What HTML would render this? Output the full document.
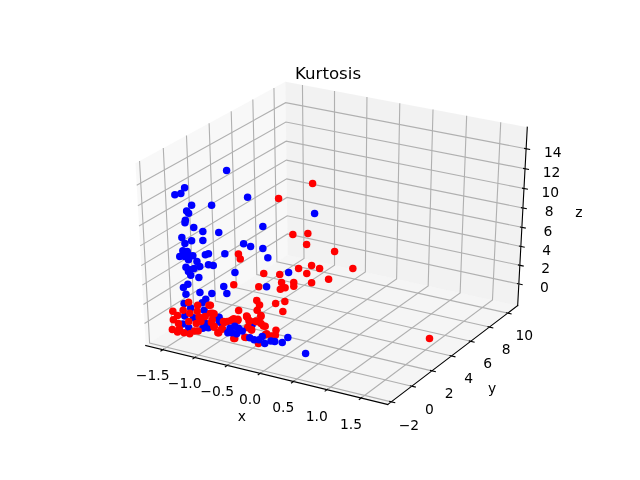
<!DOCTYPE html>
<html><head><meta charset="utf-8"><title>Kurtosis</title>
<style>html,body{margin:0;padding:0;background:#fff;overflow:hidden}svg{display:block}
text{font-family:"DejaVu Sans","Liberation Sans",sans-serif;fill:#000}</style></head>
<body><svg width="640" height="480" viewBox="0 0 640 480">
<rect width="640" height="480" fill="#fff"/>
<g><polygon points="145.75,345.53 287.71,254.91 285.35,81.76 135.47,163.18" fill="rgb(242,242,242)" fill-opacity="0.5"/>
<polygon points="287.71,254.91 517.67,305.57 527.29,127.20 285.35,81.76" fill="rgb(230,230,230)" fill-opacity="0.5"/>
<polygon points="145.75,345.53 387.70,404.53 517.67,305.57 287.71,254.91" fill="rgb(236,236,236)" fill-opacity="0.5"/>
<polyline points="145.75,345.53 387.70,404.53" stroke="#000" stroke-width="1.11" fill="none" stroke-linecap="square"/>
<polyline points="162.84,349.70 304.01,258.50 302.46,84.97" stroke="#b0b0b0" stroke-width="1.11" fill="none" stroke-linejoin="miter"/>
<polyline points="194.87,357.51 334.52,265.23 334.51,90.99" stroke="#b0b0b0" stroke-width="1.11" fill="none" stroke-linejoin="miter"/>
<polyline points="227.29,365.42 365.38,272.03 366.95,97.08" stroke="#b0b0b0" stroke-width="1.11" fill="none" stroke-linejoin="miter"/>
<polyline points="260.12,373.42 396.60,278.90 399.78,103.25" stroke="#b0b0b0" stroke-width="1.11" fill="none" stroke-linejoin="miter"/>
<polyline points="293.36,381.53 428.18,285.86 433.02,109.49" stroke="#b0b0b0" stroke-width="1.11" fill="none" stroke-linejoin="miter"/>
<polyline points="327.02,389.74 460.14,292.90 466.66,115.81" stroke="#b0b0b0" stroke-width="1.11" fill="none" stroke-linejoin="miter"/>
<polyline points="361.11,398.05 492.47,300.02 500.72,122.21" stroke="#b0b0b0" stroke-width="1.11" fill="none" stroke-linejoin="miter"/>
<polyline points="164.06,348.91 160.41,351.27" stroke="#000" stroke-width="1.11" fill="none"/>
<polyline points="196.07,356.71 192.46,359.10" stroke="#000" stroke-width="1.11" fill="none"/>
<polyline points="228.48,364.61 224.90,367.03" stroke="#000" stroke-width="1.11" fill="none"/>
<polyline points="261.29,372.61 257.76,375.06" stroke="#000" stroke-width="1.11" fill="none"/>
<polyline points="294.52,380.70 291.02,383.18" stroke="#000" stroke-width="1.11" fill="none"/>
<polyline points="328.17,388.90 324.71,391.41" stroke="#000" stroke-width="1.11" fill="none"/>
<polyline points="362.24,397.20 358.83,399.75" stroke="#000" stroke-width="1.11" fill="none"/>
<polyline points="517.67,305.57 387.70,404.53" stroke="#000" stroke-width="1.11" fill="none" stroke-linecap="square"/>
<polyline points="139.55,160.96 149.60,343.08 391.23,401.84" stroke="#b0b0b0" stroke-width="1.11" fill="none" stroke-linejoin="miter"/>
<polyline points="163.29,148.06 172.02,328.77 411.81,386.17" stroke="#b0b0b0" stroke-width="1.11" fill="none" stroke-linejoin="miter"/>
<polyline points="186.47,135.47 193.93,314.78 431.91,370.87" stroke="#b0b0b0" stroke-width="1.11" fill="none" stroke-linejoin="miter"/>
<polyline points="209.11,123.18 215.36,301.10 451.54,355.93" stroke="#b0b0b0" stroke-width="1.11" fill="none" stroke-linejoin="miter"/>
<polyline points="231.22,111.16 236.31,287.72 470.71,341.33" stroke="#b0b0b0" stroke-width="1.11" fill="none" stroke-linejoin="miter"/>
<polyline points="252.83,99.42 256.81,274.64 489.46,327.06" stroke="#b0b0b0" stroke-width="1.11" fill="none" stroke-linejoin="miter"/>
<polyline points="273.95,87.95 276.87,261.83 507.78,313.11" stroke="#b0b0b0" stroke-width="1.11" fill="none" stroke-linejoin="miter"/>
<polyline points="389.21,401.35 395.28,402.83" stroke="#000" stroke-width="1.11" fill="none"/>
<polyline points="409.81,385.69 415.83,387.14" stroke="#000" stroke-width="1.11" fill="none"/>
<polyline points="429.92,370.41 435.89,371.81" stroke="#000" stroke-width="1.11" fill="none"/>
<polyline points="449.56,355.47 455.49,356.85" stroke="#000" stroke-width="1.11" fill="none"/>
<polyline points="468.76,340.88 474.63,342.22" stroke="#000" stroke-width="1.11" fill="none"/>
<polyline points="487.51,326.62 493.34,327.93" stroke="#000" stroke-width="1.11" fill="none"/>
<polyline points="505.85,312.68 511.64,313.96" stroke="#000" stroke-width="1.11" fill="none"/>
<polyline points="517.67,305.57 527.29,127.20" stroke="#000" stroke-width="1.11" fill="none" stroke-linecap="square"/>
<polyline points="518.83,283.99 287.42,233.92 144.51,323.50" stroke="#b0b0b0" stroke-width="1.11" fill="none" stroke-linejoin="miter"/>
<polyline points="519.84,265.31 287.18,215.76 143.44,304.43" stroke="#b0b0b0" stroke-width="1.11" fill="none" stroke-linejoin="miter"/>
<polyline points="520.86,246.42 286.93,197.41 142.35,285.13" stroke="#b0b0b0" stroke-width="1.11" fill="none" stroke-linejoin="miter"/>
<polyline points="521.89,227.33 286.67,178.86 141.25,265.62" stroke="#b0b0b0" stroke-width="1.11" fill="none" stroke-linejoin="miter"/>
<polyline points="522.93,208.02 286.42,160.12 140.14,245.88" stroke="#b0b0b0" stroke-width="1.11" fill="none" stroke-linejoin="miter"/>
<polyline points="523.98,188.49 286.16,141.17 139.01,225.91" stroke="#b0b0b0" stroke-width="1.11" fill="none" stroke-linejoin="miter"/>
<polyline points="525.05,168.75 285.90,122.03 137.87,205.71" stroke="#b0b0b0" stroke-width="1.11" fill="none" stroke-linejoin="miter"/>
<polyline points="526.13,148.78 285.63,102.67 136.72,185.27" stroke="#b0b0b0" stroke-width="1.11" fill="none" stroke-linejoin="miter"/>
<polyline points="516.90,283.58 522.70,284.83" stroke="#000" stroke-width="1.11" fill="none"/>
<polyline points="517.90,264.90 523.73,266.14" stroke="#000" stroke-width="1.11" fill="none"/>
<polyline points="518.91,246.02 524.77,247.24" stroke="#000" stroke-width="1.11" fill="none"/>
<polyline points="519.92,226.92 525.82,228.14" stroke="#000" stroke-width="1.11" fill="none"/>
<polyline points="520.95,207.62 526.89,208.82" stroke="#000" stroke-width="1.11" fill="none"/>
<polyline points="522.00,188.10 527.96,189.29" stroke="#000" stroke-width="1.11" fill="none"/>
<polyline points="523.05,168.36 529.05,169.53" stroke="#000" stroke-width="1.11" fill="none"/>
<polyline points="524.12,148.39 530.15,149.55" stroke="#000" stroke-width="1.11" fill="none"/></g>
<g><text x="241.79" y="421.28" font-size="13.89" text-anchor="middle">x</text>
<text x="152.68" y="379.78" font-size="13.89" text-anchor="middle">−1.5</text>
<text x="184.70" y="387.72" font-size="13.89" text-anchor="middle">−1.0</text>
<text x="217.12" y="395.76" font-size="13.89" text-anchor="middle">−0.5</text>
<text x="249.94" y="403.91" font-size="13.89" text-anchor="middle">0.0</text>
<text x="283.18" y="412.15" font-size="13.89" text-anchor="middle">0.5</text>
<text x="316.84" y="420.50" font-size="13.89" text-anchor="middle">1.0</text>
<text x="350.93" y="428.96" font-size="13.89" text-anchor="middle">1.5</text>
<text x="492.17" y="392.62" font-size="13.89" text-anchor="middle">y</text>
<text x="408.93" y="429.58" font-size="13.89" text-anchor="middle">−2</text>
<text x="429.29" y="413.72" font-size="13.89" text-anchor="middle">0</text>
<text x="449.17" y="398.23" font-size="13.89" text-anchor="middle">2</text>
<text x="468.59" y="383.10" font-size="13.89" text-anchor="middle">4</text>
<text x="487.56" y="368.32" font-size="13.89" text-anchor="middle">6</text>
<text x="506.10" y="353.87" font-size="13.89" text-anchor="middle">8</text>
<text x="524.23" y="339.75" font-size="13.89" text-anchor="middle">10</text>
<text x="578.94" y="217.02" font-size="13.89" text-anchor="middle">z</text>
<text x="544.45" y="292.09" font-size="13.89" text-anchor="middle">0</text>
<text x="545.60" y="273.44" font-size="13.89" text-anchor="middle">2</text>
<text x="546.76" y="254.58" font-size="13.89" text-anchor="middle">4</text>
<text x="547.93" y="235.51" font-size="13.89" text-anchor="middle">6</text>
<text x="549.11" y="216.23" font-size="13.89" text-anchor="middle">8</text>
<text x="550.31" y="196.74" font-size="13.89" text-anchor="middle">10</text>
<text x="551.52" y="177.02" font-size="13.89" text-anchor="middle">12</text>
<text x="552.74" y="157.09" font-size="13.89" text-anchor="middle">14</text>
<text x="328.00" y="78.90" font-size="16.67" text-anchor="middle">Kurtosis</text></g>
<g><circle cx="226.60" cy="170.60" r="3.75" fill="#0000ff"/>
<circle cx="184.60" cy="187.85" r="3.75" fill="#0000ff"/>
<circle cx="180.85" cy="193.60" r="3.75" fill="#0000ff"/>
<circle cx="174.85" cy="194.85" r="3.75" fill="#0000ff"/>
<circle cx="247.60" cy="197.35" r="3.75" fill="#0000ff"/>
<circle cx="211.60" cy="205.35" r="3.75" fill="#0000ff"/>
<circle cx="191.60" cy="205.35" r="3.75" fill="#0000ff"/>
<circle cx="186.60" cy="211.10" r="3.75" fill="#0000ff"/>
<circle cx="188.60" cy="213.35" r="3.75" fill="#0000ff"/>
<circle cx="185.35" cy="220.35" r="3.75" fill="#0000ff"/>
<circle cx="184.95" cy="222.85" r="3.75" fill="#0000ff"/>
<circle cx="193.75" cy="227.60" r="3.75" fill="#0000ff"/>
<circle cx="262.85" cy="226.60" r="3.75" fill="#0000ff"/>
<circle cx="202.85" cy="231.60" r="3.75" fill="#0000ff"/>
<circle cx="218.75" cy="232.60" r="3.75" fill="#0000ff"/>
<circle cx="181.85" cy="237.60" r="3.75" fill="#0000ff"/>
<circle cx="191.60" cy="240.75" r="3.75" fill="#0000ff"/>
<circle cx="202.85" cy="240.60" r="3.75" fill="#0000ff"/>
<circle cx="184.95" cy="243.45" r="3.75" fill="#0000ff"/>
<circle cx="243.60" cy="243.85" r="3.75" fill="#0000ff"/>
<circle cx="250.60" cy="246.60" r="3.75" fill="#0000ff"/>
<circle cx="262.85" cy="248.60" r="3.75" fill="#0000ff"/>
<circle cx="224.85" cy="253.75" r="3.75" fill="#0000ff"/>
<circle cx="267.85" cy="257.85" r="3.75" fill="#0000ff"/>
<circle cx="314.60" cy="213.60" r="3.75" fill="#0000ff"/>
<circle cx="182.85" cy="250.75" r="3.75" fill="#0000ff"/>
<circle cx="187.25" cy="251.60" r="3.75" fill="#0000ff"/>
<circle cx="179.75" cy="256.60" r="3.75" fill="#0000ff"/>
<circle cx="184.75" cy="256.60" r="3.75" fill="#0000ff"/>
<circle cx="192.85" cy="255.75" r="3.75" fill="#0000ff"/>
<circle cx="188.45" cy="259.75" r="3.75" fill="#0000ff"/>
<circle cx="205.35" cy="254.75" r="3.75" fill="#0000ff"/>
<circle cx="208.45" cy="253.85" r="3.75" fill="#0000ff"/>
<circle cx="196.95" cy="261.60" r="3.75" fill="#0000ff"/>
<circle cx="208.45" cy="264.75" r="3.75" fill="#0000ff"/>
<circle cx="213.25" cy="265.60" r="3.75" fill="#0000ff"/>
<circle cx="199.75" cy="266.60" r="3.75" fill="#0000ff"/>
<circle cx="185.95" cy="267.25" r="3.75" fill="#0000ff"/>
<circle cx="194.10" cy="268.45" r="3.75" fill="#0000ff"/>
<circle cx="188.45" cy="271.60" r="3.75" fill="#0000ff"/>
<circle cx="190.75" cy="275.35" r="3.75" fill="#0000ff"/>
<circle cx="198.85" cy="277.45" r="3.75" fill="#0000ff"/>
<circle cx="234.95" cy="272.60" r="3.75" fill="#0000ff"/>
<circle cx="187.85" cy="284.35" r="3.75" fill="#0000ff"/>
<circle cx="183.45" cy="287.60" r="3.75" fill="#0000ff"/>
<circle cx="185.95" cy="294.35" r="3.75" fill="#0000ff"/>
<circle cx="199.95" cy="292.60" r="3.75" fill="#0000ff"/>
<circle cx="211.85" cy="293.45" r="3.75" fill="#0000ff"/>
<circle cx="223.75" cy="286.60" r="3.75" fill="#0000ff"/>
<circle cx="226.85" cy="293.45" r="3.75" fill="#0000ff"/>
<circle cx="205.75" cy="299.35" r="3.75" fill="#0000ff"/>
<circle cx="184.10" cy="303.45" r="3.75" fill="#0000ff"/>
<circle cx="202.25" cy="302.85" r="3.75" fill="#0000ff"/>
<circle cx="288.60" cy="272.60" r="3.75" fill="#0000ff"/>
<circle cx="266.60" cy="286.75" r="3.75" fill="#0000ff"/>
<circle cx="305.60" cy="353.60" r="3.75" fill="#0000ff"/>
<circle cx="188.45" cy="255.35" r="3.75" fill="#0000ff"/>
<circle cx="190.35" cy="269.75" r="3.75" fill="#0000ff"/>
<circle cx="312.60" cy="183.60" r="3.75" fill="#ff0000"/>
<circle cx="278.60" cy="198.60" r="3.75" fill="#ff0000"/>
<circle cx="292.85" cy="234.60" r="3.75" fill="#ff0000"/>
<circle cx="307.85" cy="233.60" r="3.75" fill="#ff0000"/>
<circle cx="306.60" cy="244.60" r="3.75" fill="#ff0000"/>
<circle cx="238.45" cy="254.10" r="3.75" fill="#ff0000"/>
<circle cx="240.25" cy="259.10" r="3.75" fill="#ff0000"/>
<circle cx="334.60" cy="251.60" r="3.75" fill="#ff0000"/>
<circle cx="311.60" cy="265.60" r="3.75" fill="#ff0000"/>
<circle cx="298.60" cy="268.60" r="3.75" fill="#ff0000"/>
<circle cx="319.60" cy="268.60" r="3.75" fill="#ff0000"/>
<circle cx="352.85" cy="268.60" r="3.75" fill="#ff0000"/>
<circle cx="306.75" cy="273.60" r="3.75" fill="#ff0000"/>
<circle cx="328.60" cy="279.35" r="3.75" fill="#ff0000"/>
<circle cx="311.60" cy="282.65" r="3.75" fill="#ff0000"/>
<circle cx="279.75" cy="274.60" r="3.75" fill="#ff0000"/>
<circle cx="263.75" cy="273.60" r="3.75" fill="#ff0000"/>
<circle cx="281.60" cy="282.45" r="3.75" fill="#ff0000"/>
<circle cx="293.75" cy="282.45" r="3.75" fill="#ff0000"/>
<circle cx="293.75" cy="286.35" r="3.75" fill="#ff0000"/>
<circle cx="258.75" cy="286.65" r="3.75" fill="#ff0000"/>
<circle cx="280.35" cy="289.35" r="3.75" fill="#ff0000"/>
<circle cx="285.10" cy="287.85" r="3.75" fill="#ff0000"/>
<circle cx="284.85" cy="301.55" r="3.75" fill="#ff0000"/>
<circle cx="275.65" cy="303.60" r="3.75" fill="#ff0000"/>
<circle cx="282.85" cy="311.55" r="3.75" fill="#ff0000"/>
<circle cx="256.75" cy="300.55" r="3.75" fill="#ff0000"/>
<circle cx="259.55" cy="304.95" r="3.75" fill="#ff0000"/>
<circle cx="257.15" cy="310.35" r="3.75" fill="#ff0000"/>
<circle cx="260.95" cy="315.45" r="3.75" fill="#ff0000"/>
<circle cx="233.75" cy="284.75" r="3.75" fill="#ff0000"/>
<circle cx="238.65" cy="310.55" r="3.75" fill="#ff0000"/>
<circle cx="429.50" cy="338.50" r="3.75" fill="#ff0000"/>
<circle cx="204.10" cy="310.35" r="3.75" fill="#0000ff"/>
<circle cx="219.10" cy="317.25" r="3.75" fill="#0000ff"/>
<circle cx="218.75" cy="318.75" r="3.75" fill="#0000ff"/>
<circle cx="219.25" cy="321.60" r="3.75" fill="#0000ff"/>
<circle cx="220.65" cy="322.55" r="3.75" fill="#0000ff"/>
<circle cx="184.75" cy="315.95" r="3.75" fill="#0000ff"/>
<circle cx="193.45" cy="317.85" r="3.75" fill="#0000ff"/>
<circle cx="182.85" cy="324.10" r="3.75" fill="#0000ff"/>
<circle cx="205.65" cy="323.45" r="3.75" fill="#0000ff"/>
<circle cx="190.65" cy="307.95" r="3.75" fill="#0000ff"/>
<circle cx="188.75" cy="327.65" r="3.75" fill="#0000ff"/>
<circle cx="202.85" cy="328.15" r="3.75" fill="#0000ff"/>
<circle cx="208.35" cy="327.65" r="3.75" fill="#0000ff"/>
<circle cx="252.25" cy="324.55" r="3.75" fill="#0000ff"/>
<circle cx="188.60" cy="302.35" r="3.75" fill="#ff0000"/>
<circle cx="197.65" cy="305.15" r="3.75" fill="#ff0000"/>
<circle cx="208.95" cy="305.15" r="3.75" fill="#ff0000"/>
<circle cx="172.85" cy="311.35" r="3.75" fill="#ff0000"/>
<circle cx="183.15" cy="310.35" r="3.75" fill="#ff0000"/>
<circle cx="177.55" cy="315.55" r="3.75" fill="#ff0000"/>
<circle cx="173.35" cy="319.75" r="3.75" fill="#ff0000"/>
<circle cx="172.35" cy="329.55" r="3.75" fill="#ff0000"/>
<circle cx="189.75" cy="313.15" r="3.75" fill="#ff0000"/>
<circle cx="197.25" cy="311.35" r="3.75" fill="#ff0000"/>
<circle cx="199.10" cy="316.95" r="3.75" fill="#ff0000"/>
<circle cx="210.35" cy="313.15" r="3.75" fill="#ff0000"/>
<circle cx="214.10" cy="313.65" r="3.75" fill="#ff0000"/>
<circle cx="188.75" cy="321.60" r="3.75" fill="#ff0000"/>
<circle cx="196.25" cy="323.45" r="3.75" fill="#ff0000"/>
<circle cx="200.95" cy="321.60" r="3.75" fill="#ff0000"/>
<circle cx="178.45" cy="323.45" r="3.75" fill="#ff0000"/>
<circle cx="179.35" cy="329.10" r="3.75" fill="#ff0000"/>
<circle cx="177.55" cy="331.95" r="3.75" fill="#ff0000"/>
<circle cx="184.10" cy="332.85" r="3.75" fill="#ff0000"/>
<circle cx="189.75" cy="333.75" r="3.75" fill="#ff0000"/>
<circle cx="194.35" cy="330.95" r="3.75" fill="#ff0000"/>
<circle cx="198.15" cy="330.95" r="3.75" fill="#ff0000"/>
<circle cx="211.35" cy="322.55" r="3.75" fill="#ff0000"/>
<circle cx="214.10" cy="327.25" r="3.75" fill="#ff0000"/>
<circle cx="217.85" cy="332.85" r="3.75" fill="#ff0000"/>
<circle cx="221.60" cy="329.10" r="3.75" fill="#ff0000"/>
<circle cx="223.45" cy="321.60" r="3.75" fill="#ff0000"/>
<circle cx="205.20" cy="316.45" r="3.75" fill="#ff0000"/>
<circle cx="246.95" cy="316.75" r="3.75" fill="#ff0000"/>
<circle cx="249.25" cy="320.65" r="3.75" fill="#ff0000"/>
<circle cx="256.25" cy="321.60" r="3.75" fill="#ff0000"/>
<circle cx="260.95" cy="323.45" r="3.75" fill="#ff0000"/>
<circle cx="265.15" cy="326.25" r="3.75" fill="#ff0000"/>
<circle cx="233.75" cy="318.75" r="3.75" fill="#ff0000"/>
<circle cx="237.55" cy="320.15" r="3.75" fill="#ff0000"/>
<circle cx="230.55" cy="320.65" r="3.75" fill="#ff0000"/>
<circle cx="224.35" cy="322.55" r="3.75" fill="#ff0000"/>
<circle cx="210.35" cy="305.15" r="3.75" fill="#ff0000"/>
<circle cx="212.65" cy="313.15" r="3.75" fill="#ff0000"/>
<circle cx="212.25" cy="319.75" r="3.75" fill="#ff0000"/>
<circle cx="214.10" cy="326.35" r="3.75" fill="#ff0000"/>
<circle cx="218.75" cy="332.85" r="3.75" fill="#ff0000"/>
<circle cx="222.55" cy="329.10" r="3.75" fill="#ff0000"/>
<circle cx="247.85" cy="327.25" r="3.75" fill="#ff0000"/>
<circle cx="251.60" cy="330.05" r="3.75" fill="#ff0000"/>
<circle cx="245.95" cy="337.55" r="3.75" fill="#ff0000"/>
<circle cx="233.75" cy="338.45" r="3.75" fill="#ff0000"/>
<circle cx="266.60" cy="333.75" r="3.75" fill="#ff0000"/>
<circle cx="260.95" cy="316.60" r="3.75" fill="#ff0000"/>
<circle cx="247.25" cy="317.25" r="3.75" fill="#ff0000"/>
<circle cx="249.75" cy="320.95" r="3.75" fill="#ff0000"/>
<circle cx="256.60" cy="321.60" r="3.75" fill="#ff0000"/>
<circle cx="237.85" cy="320.35" r="3.75" fill="#ff0000"/>
<circle cx="232.25" cy="319.75" r="3.75" fill="#ff0000"/>
<circle cx="227.25" cy="321.60" r="3.75" fill="#ff0000"/>
<circle cx="263.45" cy="325.95" r="3.75" fill="#ff0000"/>
<circle cx="275.95" cy="330.35" r="3.75" fill="#ff0000"/>
<circle cx="275.35" cy="335.35" r="3.75" fill="#ff0000"/>
<circle cx="271.60" cy="335.95" r="3.75" fill="#ff0000"/>
<circle cx="265.35" cy="334.75" r="3.75" fill="#ff0000"/>
<circle cx="251.60" cy="329.75" r="3.75" fill="#ff0000"/>
<circle cx="247.85" cy="327.85" r="3.75" fill="#ff0000"/>
<circle cx="234.75" cy="338.45" r="3.75" fill="#ff0000"/>
<circle cx="244.75" cy="337.25" r="3.75" fill="#ff0000"/>
<circle cx="258.45" cy="343.45" r="3.75" fill="#ff0000"/>
<circle cx="246.60" cy="316.10" r="3.75" fill="#ff0000"/>
<circle cx="237.85" cy="319.25" r="3.75" fill="#ff0000"/>
<circle cx="249.10" cy="321.10" r="3.75" fill="#ff0000"/>
<circle cx="255.95" cy="321.10" r="3.75" fill="#ff0000"/>
<circle cx="230.05" cy="328.15" r="3.75" fill="#0000ff"/>
<circle cx="234.75" cy="326.35" r="3.75" fill="#0000ff"/>
<circle cx="238.45" cy="328.15" r="3.75" fill="#0000ff"/>
<circle cx="242.25" cy="330.95" r="3.75" fill="#0000ff"/>
<circle cx="231.95" cy="332.85" r="3.75" fill="#0000ff"/>
<circle cx="236.60" cy="333.75" r="3.75" fill="#0000ff"/>
<circle cx="229.10" cy="331.95" r="3.75" fill="#0000ff"/>
<circle cx="227.85" cy="332.85" r="3.75" fill="#0000ff"/>
<circle cx="249.75" cy="337.85" r="3.75" fill="#0000ff"/>
<circle cx="254.10" cy="339.75" r="3.75" fill="#0000ff"/>
<circle cx="259.10" cy="339.75" r="3.75" fill="#0000ff"/>
<circle cx="262.25" cy="336.60" r="3.75" fill="#0000ff"/>
<circle cx="264.75" cy="343.45" r="3.75" fill="#0000ff"/>
<circle cx="270.95" cy="340.95" r="3.75" fill="#0000ff"/>
<circle cx="274.75" cy="341.60" r="3.75" fill="#0000ff"/>
<circle cx="282.25" cy="342.60" r="3.75" fill="#0000ff"/>
<circle cx="287.85" cy="337.60" r="3.75" fill="#0000ff"/></g>
</svg></body></html>
